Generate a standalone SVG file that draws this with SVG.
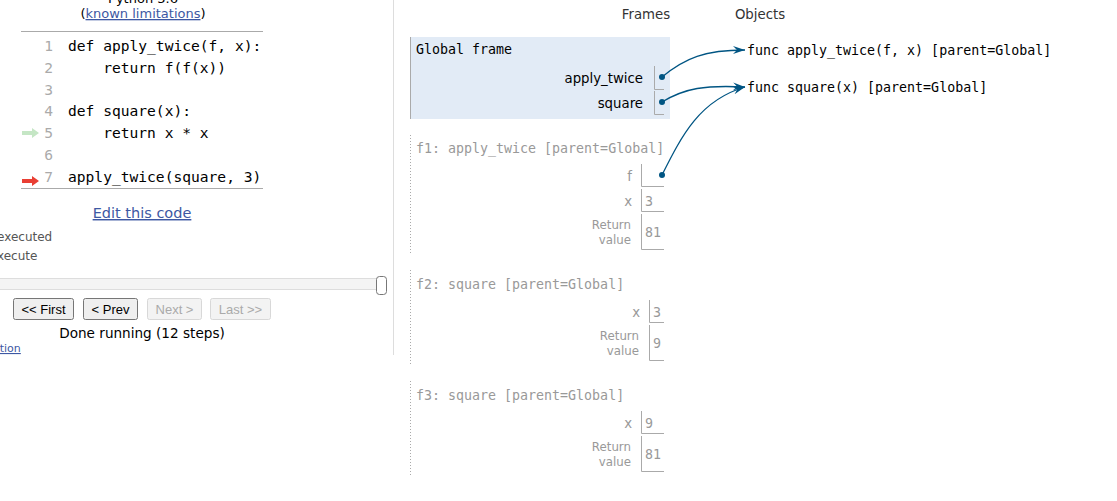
<svg xmlns="http://www.w3.org/2000/svg" width="1117" height="501" viewBox="0 0 1117 501">
<style>
.code{font-family:"DejaVu Sans Mono",monospace;font-size:14.6px;fill:#000}
.ln{font-family:"DejaVu Sans Mono",monospace;font-size:14.6px;fill:#aaa;text-anchor:end}
.sans{font-family:"DejaVu Sans",sans-serif}
.mono{font-family:"DejaVu Sans Mono",monospace;font-size:13.3px}
.lbl{font-family:"DejaVu Sans",sans-serif;font-size:13.3px;text-anchor:end}
.glbl{font-family:"DejaVu Sans",sans-serif;font-size:13.3px;text-anchor:end;fill:#999}
.rv{font-family:"DejaVu Sans",sans-serif;font-size:11.8px;text-anchor:end;fill:#999}
.val{font-family:"DejaVu Sans Mono",monospace;font-size:13.3px;fill:#999}
.box{fill:none;stroke:#aaa;stroke-width:1}
.dot{fill:#005583}
.arr{fill:none;stroke:#005583;stroke-width:1.3}
.btn{fill:#efefef;stroke:#767676;stroke-width:1}
.btnd{fill:#f3f3f3;stroke:#d8d8d8;stroke-width:1}
.bt{font-family:"Liberation Sans",Arial,sans-serif;font-size:13px;text-anchor:middle}
.fborder{stroke:#aaa;stroke-width:1;stroke-dasharray:1,2}
</style>
<defs>
<marker id="ah" markerWidth="14" markerHeight="10" refX="12" refY="5" orient="auto" markerUnits="userSpaceOnUse">
<path d="M0,1 L12,5 L0,9 L4,5 Z" fill="#005583"/>
</marker>
</defs>
<rect width="1117" height="501" fill="#fff"/>

<g id="code-panel">
<text x="143" y="3" class="sans" font-size="13" text-anchor="middle" fill="#000">Python 3.6</text>
<text x="143" y="18" class="sans" font-size="13" text-anchor="middle" fill="#000">(<tspan fill="#3d58a3" text-decoration="underline">known limitations</tspan>)</text>
<line x1="21" y1="31.5" x2="263" y2="31.5" stroke="#aaa"/>
<text x="53" y="51" class="ln">1</text><text x="68" y="51" class="code">def apply_twice(f, x):</text>
<text x="53" y="73" class="ln">2</text><text x="68" y="73" class="code" xml:space="preserve">    return f(f(x))</text>
<text x="53" y="95" class="ln">3</text>
<text x="53" y="116" class="ln">4</text><text x="68" y="116" class="code">def square(x):</text>
<text x="53" y="138" class="ln">5</text><text x="68" y="138" class="code" xml:space="preserve">    return x * x</text>
<text x="53" y="160" class="ln">6</text>
<text x="53" y="182" class="ln">7</text><text x="68" y="182" class="code">apply_twice(square, 3)</text>
<line x1="21" y1="188.5" x2="263" y2="188.5" stroke="#aaa"/>
<path d="M22,131 L32,131 L32,128 L39,133 L32,138 L32,135 L22,135 Z" fill="#c5e6c5"/>
<path d="M22,179 L32,179 L32,176 L39,181 L32,186 L32,183 L22,183 Z" fill="#e93f34"/>
<text x="142" y="218" class="sans" font-size="14.5" text-anchor="middle" fill="#3d58a3" text-decoration="underline">Edit this code</text>
<text x="-3" y="241" class="sans" font-size="12" fill="#555">executed</text>
<text x="-3" y="260" class="sans" font-size="12" fill="#555">xecute</text>
<rect x="-5" y="278.5" width="386" height="11" fill="#f4f4f4" stroke="#ddd"/>
<rect x="376.5" y="276.5" width="10" height="18" rx="3" fill="#fff" stroke="#777"/>
<rect x="13.5" y="298.5" width="60" height="21" rx="2" class="btn"/>
<text x="43.5" y="314" class="bt" fill="#000">&lt;&lt; First</text>
<rect x="83.5" y="298.5" width="54" height="21" rx="2" class="btn"/>
<text x="110.5" y="314" class="bt" fill="#000">&lt; Prev</text>
<rect x="147.5" y="298.5" width="54" height="21" rx="2" class="btnd"/>
<text x="174.5" y="314" class="bt" fill="#aaa">Next &gt;</text>
<rect x="210.5" y="298.5" width="60" height="21" rx="2" class="btnd"/>
<text x="240.5" y="314" class="bt" fill="#aaa">Last &gt;&gt;</text>
<text x="142" y="338" class="sans" font-size="13.6" text-anchor="middle" fill="#000">Done running (12 steps)</text>
<text x="-7" y="352" class="sans" font-size="11" fill="#3d58a3" text-decoration="underline">ation</text>
<line x1="393.5" y1="0" x2="393.5" y2="355" stroke="#ddd"/>
</g>

<g id="headers">
<text x="646" y="19" class="sans" font-size="13.3" text-anchor="middle" fill="#333">Frames</text>
<text x="760" y="19" class="sans" font-size="13.3" text-anchor="middle" fill="#333">Objects</text>
</g>

<g id="global-frame">
<rect x="410" y="37" width="260" height="82" fill="#e2ebf6"/>
<line x1="410.5" y1="37" x2="410.5" y2="119" stroke="#aaa"/>
<text x="416" y="54" class="mono" fill="#000">Global frame</text>
<text x="643" y="83" class="lbl" fill="#000">apply_twice</text>
<path d="M654.5,66 V89.5 H664" class="box"/>
<circle cx="662" cy="77" r="3" class="dot"/>
<text x="643" y="108" class="lbl" fill="#000">square</text>
<path d="M654.5,91 V114.5 H664" class="box"/>
<circle cx="662" cy="102" r="3" class="dot"/>
</g>

<g id="f1-frame">
<line x1="410.5" y1="135" x2="410.5" y2="255" class="fborder"/>
<text x="416" y="153" class="mono" fill="#999">f1: apply_twice [parent=Global]</text>
<text x="632" y="181" class="glbl">f</text>
<path d="M641.5,164 V186.5 H664" class="box"/>
<circle cx="662" cy="175" r="3" class="dot"/>
<text x="632" y="206" class="glbl">x</text>
<path d="M641.5,189 V211.5 H664" class="box"/>
<text x="645" y="206" class="val">3</text>
<text x="631" y="229" class="rv">Return</text>
<text x="631" y="244" class="rv">value</text>
<path d="M641.5,214 V249.5 H664" class="box"/>
<text x="645" y="237" class="val">81</text>
</g>

<g id="f2-frame">
<line x1="410.5" y1="270" x2="410.5" y2="366" class="fborder"/>
<text x="416" y="289" class="mono" fill="#999">f2: square [parent=Global]</text>
<text x="640" y="317" class="glbl">x</text>
<path d="M649.5,300 V322.5 H664" class="box"/>
<text x="653" y="317" class="val">3</text>
<text x="639" y="340" class="rv">Return</text>
<text x="639" y="355" class="rv">value</text>
<path d="M649.5,325 V360.5 H664" class="box"/>
<text x="653" y="348" class="val">9</text>
</g>

<g id="f3-frame">
<line x1="410.5" y1="381" x2="410.5" y2="477" class="fborder"/>
<text x="416" y="400" class="mono" fill="#999">f3: square [parent=Global]</text>
<text x="632" y="428" class="glbl">x</text>
<path d="M641.5,411 V433.5 H664" class="box"/>
<text x="645" y="428" class="val">9</text>
<text x="631" y="451" class="rv">Return</text>
<text x="631" y="466" class="rv">value</text>
<path d="M641.5,436 V471.5 H664" class="box"/>
<text x="645" y="459" class="val">81</text>
</g>

<g id="obj-apply_twice">
<text x="747" y="55" class="mono" fill="#000">func apply_twice(f, x) [parent=Global]</text>
</g>
<g id="obj-square">
<text x="747" y="92" class="mono" fill="#000">func square(x) [parent=Global]</text>
</g>

<g id="connectors">
<path d="M662,77 C685,58 705,50 745,50" class="arr" marker-end="url(#ah)"/>
<path d="M662,102 C685,88 705,85 745,87" class="arr" marker-end="url(#ah)"/>
<path d="M662,175 C682,135 700,100 745,87" class="arr" marker-end="url(#ah)"/>
</g>
</svg>
